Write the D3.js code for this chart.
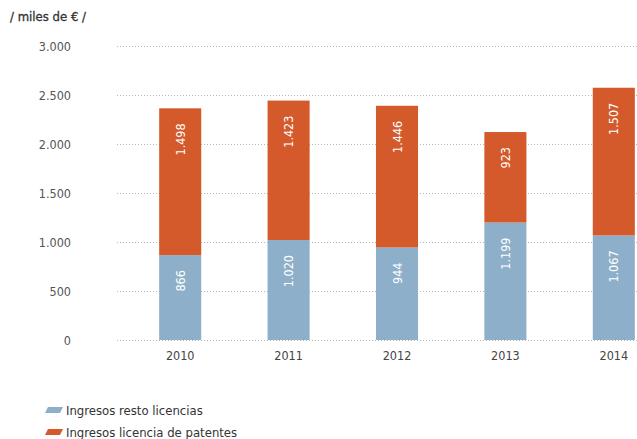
<!DOCTYPE html>
<html>
<head>
<meta charset="utf-8">
<script src="https://cdn.jsdelivr.net/npm/d3@7"></script>
<style>
  html, body { margin: 0; padding: 0; background: #fff; }
  svg text { font-family: "DejaVu Sans Condensed", "Liberation Sans Narrow", sans-serif; }
</style>
</head>
<body>
<svg id="chart" width="637" height="439"></svg>
<script>
// Ingresos por licencias (miles de €)
const years = ["2010", "2011", "2012", "2013", "2014"];
const restoLicencias = [866, 1020, 944, 1199, 1067];
const licenciaPatentes = [1498, 1423, 1446, 923, 1507];
const yTicks = [0, 500, 1000, 1500, 2000, 2500, 3000];
const seriesNames = ["Ingresos resto licencias", "Ingresos licencia de patentes"];
const seriesColors = ["#8eafca", "#d4592b"];

const fmt = v => d3.format(",")(v).replace(/,/g, ".");
const FONT = '"DejaVu Sans Condensed", "Liberation Sans Narrow", sans-serif';

const svg = d3.select("#chart");

const x = d3.scaleBand().domain(years).range([126, 668]).paddingInner(0.612).paddingOuter(0.306);
const y = d3.scaleLinear().domain([0, 3000]).range([340, 46]);

// dotted gridlines
svg.append("g").selectAll("line").data(yTicks).join("line")
  .attr("x1", 117).attr("x2", 637)
  .attr("y1", d => y(d) + 0.5).attr("y2", d => y(d) + 0.5)
  .attr("stroke", "#b5b5b5").attr("stroke-width", 1)
  .attr("stroke-dasharray", "1,2");

// y tick labels
const yAxis = d3.axisLeft(y).tickValues(yTicks).tickSize(0).tickPadding(0)
  .tickFormat(d => d === 0 ? "0" : fmt(d));
const ya = svg.append("g").attr("transform", "translate(71,0)").call(yAxis);
ya.select(".domain").remove();
ya.selectAll("text").attr("font-size", 12.5).attr("fill", "#555").style("font-family", FONT);

// unit label
svg.append("text").attr("x", 10).attr("y", 21)
  .attr("font-size", 13).attr("fill", "#333")
  .attr("stroke", "#333").attr("stroke-width", 0.3)
  .text("/  miles de € /");

// stacked data
const rows = years.map((yr, i) => ({ year: yr, resto: restoLicencias[i], patentes: licenciaPatentes[i] }));
const stack = d3.stack().keys(["resto", "patentes"])(rows);

const layers = svg.append("g").selectAll("g").data(stack).join("g")
  .attr("fill", (d, i) => seriesColors[i]);

layers.selectAll("rect").data(d => d).join("rect")
  .attr("x", d => x(d.data.year))
  .attr("width", x.bandwidth())
  .attr("y", d => y(d[1]))
  .attr("height", d => y(d[0]) - y(d[1]));

// value labels, rotated, near top of each segment
stack.forEach(layer => {
  svg.append("g").selectAll("text").data(layer).join("text")
    .attr("transform", d => `translate(${x(d.data.year) + x.bandwidth() / 2},${y(d[1]) + 15}) rotate(-90)`)
    .attr("text-anchor", "end")
    .attr("dominant-baseline", "central")
    .attr("font-size", 12.5).attr("fill", "#fff")
    .text(d => fmt(d[1] - d[0]));
});

// x axis labels
const xAxis = d3.axisBottom(x).tickSize(0).tickPadding(0);
const xa = svg.append("g").attr("transform", "translate(0,351)").call(xAxis);
xa.select(".domain").remove();
xa.selectAll("text").attr("font-size", 12.5).attr("fill", "#444").style("font-family", FONT);

// legend
const legend = svg.append("g").selectAll("g").data(seriesNames).join("g")
  .attr("transform", (d, i) => `translate(45,${410 + i * 22})`);
legend.append("path")
  .attr("d", "M3,-3 L18,-3 L15,3 L0,3 Z")
  .attr("fill", (d, i) => seriesColors[i]);
legend.append("text").attr("x", 21).attr("dominant-baseline", "central")
  .attr("font-size", 13).attr("fill", "#333")
  .text(d => d);
</script>
</body>
</html>
